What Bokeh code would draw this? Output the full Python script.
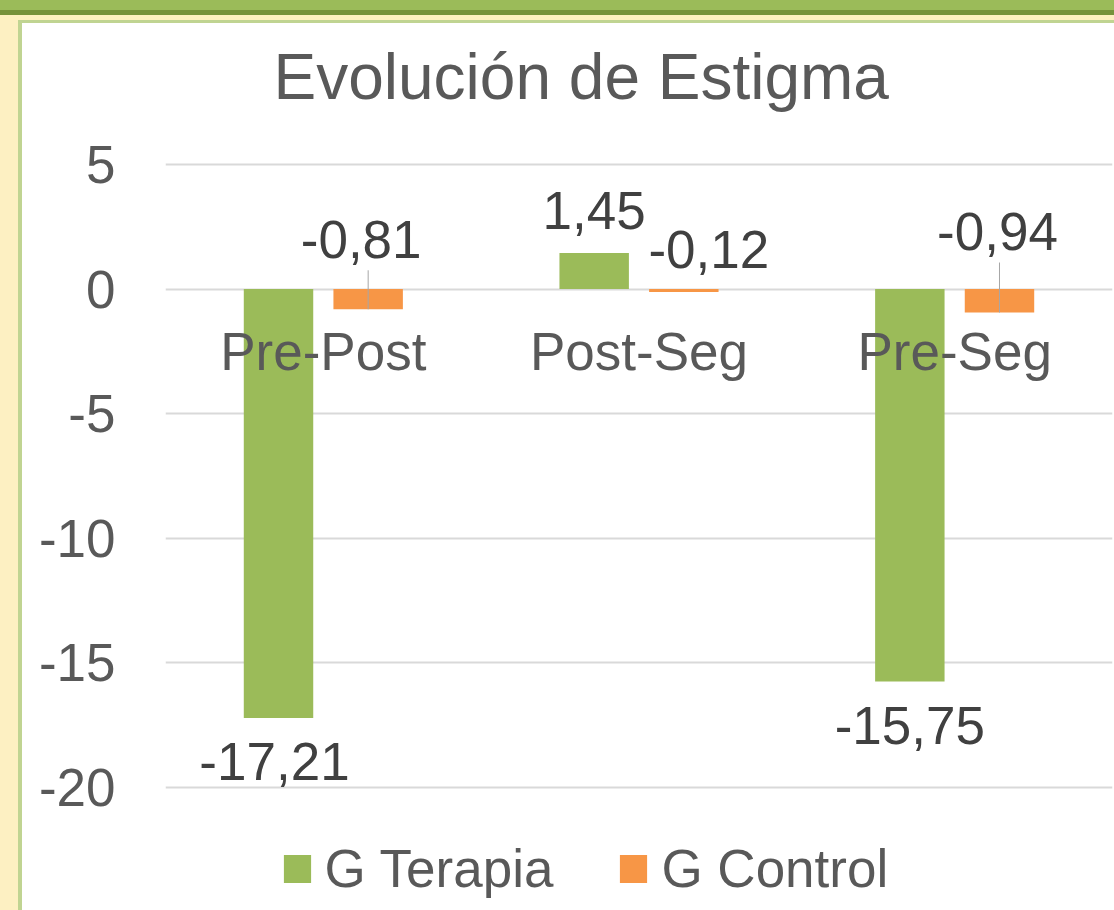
from bokeh.plotting import figure
from bokeh.models import (ColumnDataSource, FactorRange, Range1d, FixedTicker, Legend,
                          LegendItem, PrintfTickFormatter)
from bokeh.transform import dodge
from bokeh.core.properties import value
from bokeh.embed import file_html
from bokeh.resources import INLINE

# ---------------- data ----------------
categories = ["Pre-Post", "Post-Seg", "Pre-Seg"]
g_terapia = [-17.21, 1.45, -15.75]
g_control = [-0.81, -0.12, -0.94]
series_names = ["G Terapia", "G Control"]
y_ticks = [5, 0, -5, -10, -15, -20]
title_text = "Evolución de Estigma"

# ---------------- style / layout ----------------
W, H = 1114, 910
FL, FR, FT, FB = 165, 1112, 150, 910
PPU = 24.92
Y5_PX = 164
y_end = 5 + (Y5_PX - FT) / PPU
y_start = y_end - (FB - FT) / PPU

FONT = "Liberation Sans"
GREEN, ORANGE = "#9BBB59", "#F79646"
TXT, DTXT = "#595959", "#404040"
FS = "53px"
BFIX = 21  # renderer baseline correction (px)

# label offsets (pixels, baseline relative to bar end)
t_dx, t_dy = [-4, 0, 0], [64.5, -21.5, 65]
c_dx, c_dy = [-7, 25, -2], [-49, -21.6, -60]
c_leader = [True, False, True]

def fmt(v):
    return f"{v:.2f}".replace(".", ",")

src = ColumnDataSource(dict(
    cat=categories, t=g_terapia, c=g_control,
    tl=[fmt(v) for v in g_terapia], cl=[fmt(v) for v in g_control],
    tdx=t_dx, tdy=[d - BFIX for d in t_dy], cdx=c_dx, cdy=[d - BFIX for d in c_dy],
))

lead = ColumnDataSource(dict(
    cat=[categories[i] for i in range(3) if c_leader[i]],
    y0=[g_control[i] for i in range(3) if c_leader[i]],
    y1=[g_control[i] + (-c_dy[i] - 10) / PPU for i in range(3) if c_leader[i]],
))

p = figure(width=W, height=H,
           x_range=FactorRange(factors=categories, range_padding=0),
           y_range=Range1d(y_start, y_end),
           x_axis_location=None,
           output_backend="svg", toolbar_location=None,
           min_border_left=FL, min_border_right=W - FR,
           min_border_top=FT, min_border_bottom=H - FB)
p.styles = {
    "position": "absolute", "left": "0px", "top": "0px",
    "background": ("linear-gradient(#ffffff, #ffffff) 22px 23px / 100% 100% no-repeat, "
                   "linear-gradient(#C0D492, #C0D492) 18px 20px / 100% 100% no-repeat, "
                   "linear-gradient(to bottom, #9BBB59 0px, #9BBB59 10px, #76923C 10px, "
                   "#76923C 15px, #FDF0C2 15px) 0px 0px / 100% 100% no-repeat"),
}
p.outline_line_color = None
p.background_fill_color = "white"
p.border_fill_color = None

# title
p.title.text = title_text
p.title.text_font = FONT
p.title.text_font_size = "64px"
p.title.text_font_style = "normal"
p.title.text_color = TXT
p.title.align = "left"
p.title.offset = 108
p.title.standoff = 76

# y axis
ticker = FixedTicker(ticks=y_ticks)
p.yaxis.ticker = ticker
p.yaxis.formatter = PrintfTickFormatter(format="%d")
p.yaxis.axis_line_color = None
p.yaxis.major_tick_line_color = None
p.yaxis.minor_tick_line_color = None
p.yaxis.major_tick_out = 0
p.yaxis.major_tick_in = 0
p.yaxis.minor_tick_out = 0
p.yaxis.major_label_standoff = 50
p.yaxis.major_label_text_font = FONT
p.yaxis.major_label_text_font_size = FS
p.yaxis.major_label_text_color = TXT
p.yaxis.major_label_text_baseline = "alphabetic"
p.ygrid.ticker = ticker
p.ygrid.grid_line_color = "#D9D9D9"
p.ygrid.grid_line_width = 2
p.xgrid.grid_line_color = None

# bars
r1 = p.vbar(x=dodge("cat", -0.142, range=p.x_range), top="t", bottom=0, width=0.22,
            fill_color=GREEN, line_color=None, source=src)
r2 = p.vbar(x=dodge("cat", 0.142, range=p.x_range), top="c", bottom=0, width=0.22,
            fill_color=ORANGE, line_color=None, source=src)

# leader lines
p.segment(x0=dodge("cat", 0.142, range=p.x_range), y0="y0",
          x1=dodge("cat", 0.142, range=p.x_range), y1="y1",
          line_color="#A6A6A6", line_width=1, source=lead)

# data labels
p.text(x=dodge("cat", -0.142, range=p.x_range), y="t", text="tl",
       x_offset="tdx", y_offset="tdy", text_align="center", text_baseline="alphabetic",
       text_font=value(FONT), text_font_size=FS, text_color=DTXT, source=src)
p.text(x=dodge("cat", 0.142, range=p.x_range), y="c", text="cl",
       x_offset="cdx", y_offset="cdy", text_align="center", text_baseline="alphabetic",
       text_font=value(FONT), text_font_size=FS, text_color=DTXT, source=src)

# category labels at the zero line
p.text(x="cat", y=0, text="cat", y_offset=84 - BFIX - 1, text_align="center",
       text_baseline="alphabetic", text_font=value(FONT), text_font_size=FS,
       text_color=TXT, source=src)

# legend
legend = Legend(items=[LegendItem(label=series_names[0], renderers=[r1]),
                       LegendItem(label=series_names[1], renderers=[r2])],
                orientation="horizontal", location=(114.6, 11),
                glyph_width=34, glyph_height=35, label_standoff=11, spacing=63,
                padding=0, margin=0, border_line_color=None, background_fill_alpha=0,
                label_text_font=FONT, label_text_font_size=FS, label_text_color=TXT)
p.add_layout(legend)

open("out.html", "w").write(file_html(p, INLINE))
